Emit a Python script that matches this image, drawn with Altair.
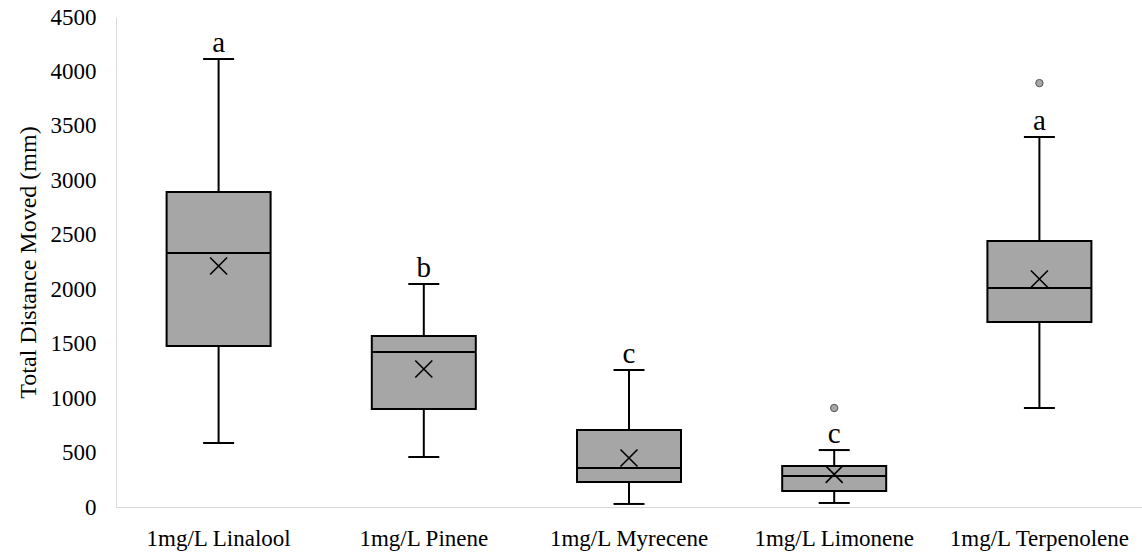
import altair as alt
import pandas as pd

# ---- data ----
categories = ["1mg/L Linalool", "1mg/L Pinene", "1mg/L Myrecene", "1mg/L Limonene", "1mg/L Terpenolene"]
whisker_low = [588, 459, 28, 37, 909]
q1 = [1478, 900, 230, 147, 1699]
median = [2333, 1423, 358, 285, 2011]
q3 = [2893, 1570, 707, 376, 2443]
whisker_high = [4114, 2048, 1258, 523, 3398]
mean = [2213, 1267, 450, 300, 2094]
letters = ["a", "b", "c", "c", "a"]

outlier_cats = ["1mg/L Limonene", "1mg/L Terpenolene"]
outlier_vals = [909, 3893]

y_ticks = [0, 500, 1000, 1500, 2000, 2500, 3000, 3500, 4000, 4500]

df = pd.DataFrame({
    "cat": categories, "low": whisker_low, "q1": q1, "median": median,
    "q3": q3, "high": whisker_high, "mean": mean, "letter": letters,
})
out_df = pd.DataFrame({"cat": outlier_cats, "val": outlier_vals})

FONT = "Liberation Serif"
Y_TITLE = "Total Distance Moved (mm)"
y_scale = alt.Scale(domain=[0, 4500], nice=False, zero=True)
y_axis = alt.Axis(values=y_ticks, format="d", title=Y_TITLE, grid=False, ticks=False,
                  domainColor="#d9d9d9", domainWidth=1, labelFont=FONT, labelFontSize=23,
                  labelColor="black", labelPadding=20, titleFont=FONT, titleFontSize=24,
                  titleFontWeight="normal", titleColor="black", titlePadding=10)

def Y(field):
    return alt.Y(f"{field}:Q", scale=y_scale, axis=y_axis, title=Y_TITLE)

x_enc = alt.X("cat:N", sort=categories, scale=alt.Scale(paddingInner=0, paddingOuter=0),
              axis=alt.Axis(title=None, labelAngle=0, ticks=False, grid=False, labelLimit=400,
                            domainColor="#d9d9d9", domainWidth=1, labelFont=FONT,
                            labelFontSize=23, labelColor="black", labelPadding=20))

base = alt.Chart(df).encode(x=x_enc)

whisker = base.mark_rule(color="black", strokeWidth=2).encode(y=Y("low"), y2="high:Q")
cap_low = base.mark_tick(size=31, thickness=2, color="black", opacity=1).encode(y=Y("low"))
cap_high = base.mark_tick(size=31, thickness=2, color="black", opacity=1).encode(y=Y("high"))
box = base.mark_bar(size=104, fill="#a6a6a6", stroke="black", strokeWidth=2, opacity=1).encode(
    y=Y("q1"), y2="q3:Q")
med = base.mark_tick(size=104, thickness=2, color="black", opacity=1).encode(y=Y("median"))
mean_pt = base.mark_point(shape="M-1,-1L1,1M-1,1L1,-1", size=289, filled=False, stroke="black",
                          strokeWidth=1.6, opacity=1).encode(y=Y("mean"))
label = base.mark_text(font=FONT, fontSize=29, color="black", baseline="alphabetic", dy=-7).encode(
    y=Y("high"), text="letter:N")

outl = alt.Chart(out_df).mark_point(shape="circle", filled=True, fill="#a6a6a6", stroke="#555555",
                                    strokeWidth=1, size=55, opacity=1).encode(
    x=alt.X("cat:N", sort=categories), y=Y("val"))

chart = alt.layer(whisker, cap_low, cap_high, box, med, mean_pt, outl, label).properties(
    width=1026, height=490,
    autosize=alt.AutoSizeParams(type="none"),
    padding={"left": 116, "top": 17, "right": 0, "bottom": 48},
    background="white",
).configure(font=FONT).configure_view(stroke=None).configure_axis(
    labelFont=FONT, titleFont=FONT, labelFontSize=23, titleFontSize=24,
    titleFontWeight="normal", labelColor="black", titleColor="black", labelLimit=400,
)

chart.save("out.html", embed_options={"renderer": "svg", "actions": False})
